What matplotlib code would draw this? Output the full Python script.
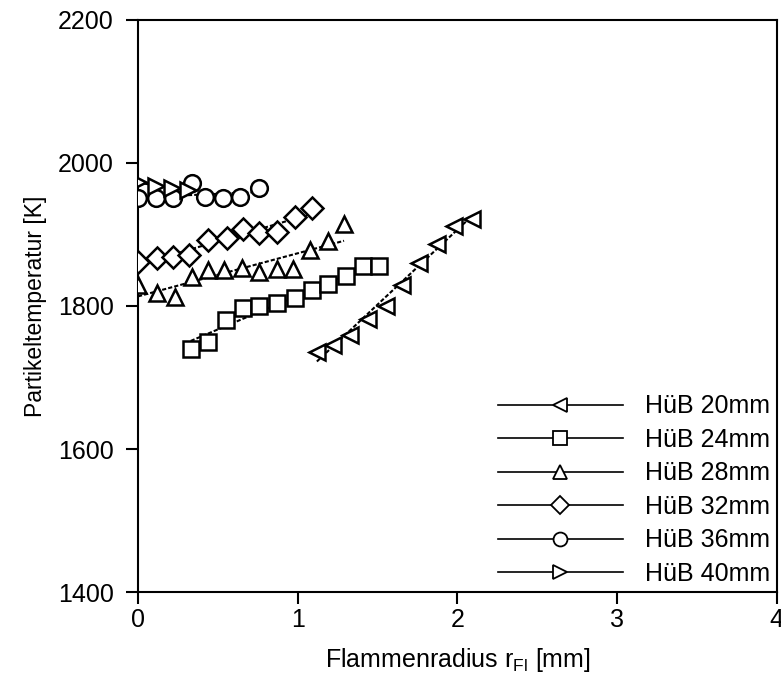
import matplotlib
matplotlib.use("Agg")
import matplotlib.pyplot as plt
import numpy as np
from matplotlib.lines import Line2D

plt.rcParams['font.family'] = ['Liberation Sans', 'DejaVu Sans']

# HueB 20mm
x20 = [1.12, 1.22, 1.33, 1.44, 1.55, 1.65, 1.76, 1.87, 1.98, 2.09]
t20 = [1736, 1745, 1760, 1782, 1800, 1829, 1860, 1887, 1912, 1921]
# HueB 24mm
x24 = [0.33, 0.44, 0.55, 0.66, 0.76, 0.87, 0.98, 1.09, 1.19, 1.30, 1.41, 1.51]
t24 = [1740, 1750, 1780, 1797, 1800, 1804, 1811, 1822, 1831, 1842, 1856, 1856]
# HueB 28mm
x28 = [0.0, 0.12, 0.23, 0.34, 0.44, 0.54, 0.65, 0.76, 0.87, 0.97, 1.08, 1.19, 1.29]
t28 = [1829, 1818, 1812, 1840, 1850, 1850, 1853, 1847, 1852, 1852, 1878, 1891, 1914]
# HueB 32mm
x32 = [0.0, 0.12, 0.22, 0.32, 0.44, 0.56, 0.66, 0.76, 0.87, 0.98, 1.09]
t32 = [1862, 1867, 1869, 1871, 1892, 1895, 1907, 1902, 1903, 1924, 1937]
# HueB 36mm
x36 = [0.0, 0.11, 0.22, 0.34, 0.42, 0.53, 0.64, 0.76]
t36 = [1951, 1951, 1951, 1972, 1952, 1951, 1952, 1965]
# HueB 40mm
x40 = [0.0, 0.11, 0.21, 0.31]
t40 = [1973, 1968, 1965, 1962]

series = [
    ('HüB 20mm', x20, t20, '<'),
    ('HüB 24mm', x24, t24, 's'),
    ('HüB 28mm', x28, t28, '^'),
    ('HüB 32mm', x32, t32, 'D'),
    ('HüB 36mm', x36, t36, 'o'),
    ('HüB 40mm', x40, t40, '>'),
]

fig = plt.figure(figsize=(7.81, 6.8), dpi=100)
ax = fig.add_axes([0.1767, 0.1294, 0.818, 0.8412])

handles = []
for label, x, t, m in series:
    ms = 12 if m != 'D' else 11
    # Regressionsgerade
    p = np.polyfit(x, t, 1)
    xl = np.array([min(x), max(x)])
    ax.plot(xl, np.polyval(p, xl), color='black', lw=1.5, ls=(0, (2.0, 1.0)), zorder=2)
    ax.plot(x, t, ls='none', marker=m, ms=ms, mfc='white', mec='black', mew=1.8, zorder=3)
    handles.append(Line2D([], [], color='black', lw=1.2, marker=m, ms=ms - 2,
                          mfc='white', mec='black', mew=1.3, label=label))

ax.set_xlim(0, 4)
ax.set_ylim(1400, 2200)
ax.set_xticks([0, 1, 2, 3, 4])
ax.set_yticks([1400, 1600, 1800, 2000, 2200])
ax.tick_params(direction='out', length=8.5, width=1.5, labelsize=18)
ax.tick_params(axis='x', pad=3)
ax.tick_params(axis='y', pad=9)
for s in ax.spines.values():
    s.set_linewidth(1.5)

ax.set_xlabel('Flammenradius r$_{\\mathregular{Fl}}$ [mm]', fontsize=18, labelpad=10)
ax.set_ylabel('Partikeltemperatur [K]', fontsize=16.5, labelpad=8)

ax.legend(handles=handles, loc='lower right', frameon=False, fontsize=18,
          handlelength=5.0, handletextpad=0.9, labelspacing=0.38,
          borderaxespad=0.05, borderpad=0.2)

fig.savefig('out.png', dpi=100)
